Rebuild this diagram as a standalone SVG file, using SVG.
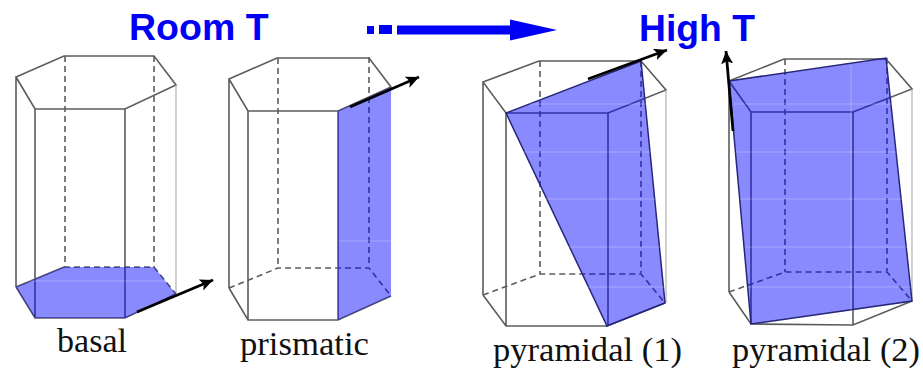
<svg xmlns="http://www.w3.org/2000/svg" width="923" height="368" viewBox="0 0 923 368">
<style>
.e{fill:none;stroke:#5c5c5c;stroke-width:1.6}
.l{fill:none;stroke:#b0b0b0;stroke-width:1.2}
.d{fill:none;stroke:#5c5c5c;stroke-width:1.6;stroke-dasharray:6 4}
.p{fill:#0000ff;fill-opacity:.46;stroke:none}
.b{fill:none;stroke:#26267a;stroke-width:1.5}
.w{stroke:#fff;stroke-opacity:.25;stroke-width:1}
.v{stroke:#000;stroke-width:2.8;fill:none;marker-end:url(#h)}
.t{font-family:"Liberation Serif",serif;font-size:33.500px;fill:#111}
.h{font-family:"Liberation Sans",Arial,sans-serif;font-size:37.500px;font-weight:bold;fill:#0000f5}
</style>
<defs>
<marker id="h" markerUnits="userSpaceOnUse" markerWidth="16" markerHeight="14" refX="13" refY="6" orient="auto"><path d="M0 0L13 6L0 12L3 6Z" fill="#000"/></marker>
</defs>
<rect width="923" height="368" fill="#fff"/>
<g id="heading">
<text class="h" x="129" y="40">Room T</text>
<text class="h" x="639" y="41" textLength="116" lengthAdjust="spacingAndGlyphs">High T</text>
<path d="M367 26h7v8h-7zM379 25h13v9h-13zM397 25.500h113v-6l47 10.500l-47 10.500v-6h-113z" fill="#0000f5"/>
</g>
<g id="basal">
<path class="e" d="M16 77L64 56H154L176 85L125 109H35ZM35 109V318M125 109V318M16 77V287M16 287L35 318H125L176 294M16 287L64 267"/>
<path class="l" d="M176 85V294"/>
<path class="d" d="M65 56V267M154 56V267M64 267H154L176 294"/>
<polygon class="p" points="16,287 64,267 154,267 176,294 125,318 35,318"/>
<path class="w" d="M17 281H170"/>
<text class="t" x="57" y="352" textLength="70" lengthAdjust="spacingAndGlyphs">basal</text>
</g>
<g id="prismatic">
<path class="e" d="M229 79L277 58H369L391 87L338 111H248ZM248 111V320M338 111V320M229 79V288M229 288L248 320H338L391 296"/>
<path class="d" d="M278 58V268M369 57V267M229 288L278 268H369L391 296"/>
<polygon class="p" points="338,111 391,87 391,296 338,320"/>
<path class="w" d="M339 241H391"/>
<text class="t" x="240" y="355" textLength="129" lengthAdjust="spacingAndGlyphs">prismatic</text>
</g>
<g id="pyramidal-1">
<path class="e" d="M483 82L539 61H641L666 90L608 113H506ZM506 113V326M608 113V326M483 82V295M483 295L506 326H607L665 303"/>
<path class="l" d="M666 90V303"/>
<path class="d" d="M540 61V274M641 61V273M483 295L540 274H641L665 303"/>
<polygon class="p" points="506,113 641,61 665,303 607,326"/>
<path class="b" d="M506 113L641 61L665 303L607 326Z"/>
<path class="w" d="M530 104H650M506 152H660M526 199H655M545 247H660M560 287H665"/>
<text class="t" x="493" y="360.500" textLength="189" lengthAdjust="spacingAndGlyphs" xml:space="preserve">pyramidal (1)</text>
</g>
<g id="pyramidal-2">
<path class="e" d="M729 81L784 59H886L912 89L853 112H751ZM751 112V324M853 112V325M729 81V292M729 292L751 324L853 325L912 301"/>
<path class="l" d="M912 89V301"/>
<path class="d" d="M785 59V272M887 58V271M729 292L785 272H887L912 301"/>
<polygon class="p" points="729,81 886,58 912,301 751,324"/>
<path class="b" d="M729 81L886 58L912 301L751 324Z"/>
<path class="w" d="M734 104H893M736 152H898M740 199H903M745 247H908M748 287H911M851 65V322"/>
<text class="t" x="732" y="360.500" textLength="188" lengthAdjust="spacingAndGlyphs" xml:space="preserve">pyramidal (2)</text>
</g>
<g id="connectors">
<line class="v" x1="137" y1="312" x2="213" y2="280"/>
<line class="v" x1="350" y1="107" x2="419" y2="77"/>
<line class="v" x1="588" y1="79" x2="667" y2="50"/>
<line class="v" x1="733" y1="131" x2="726" y2="51"/>
</g>
</svg>
